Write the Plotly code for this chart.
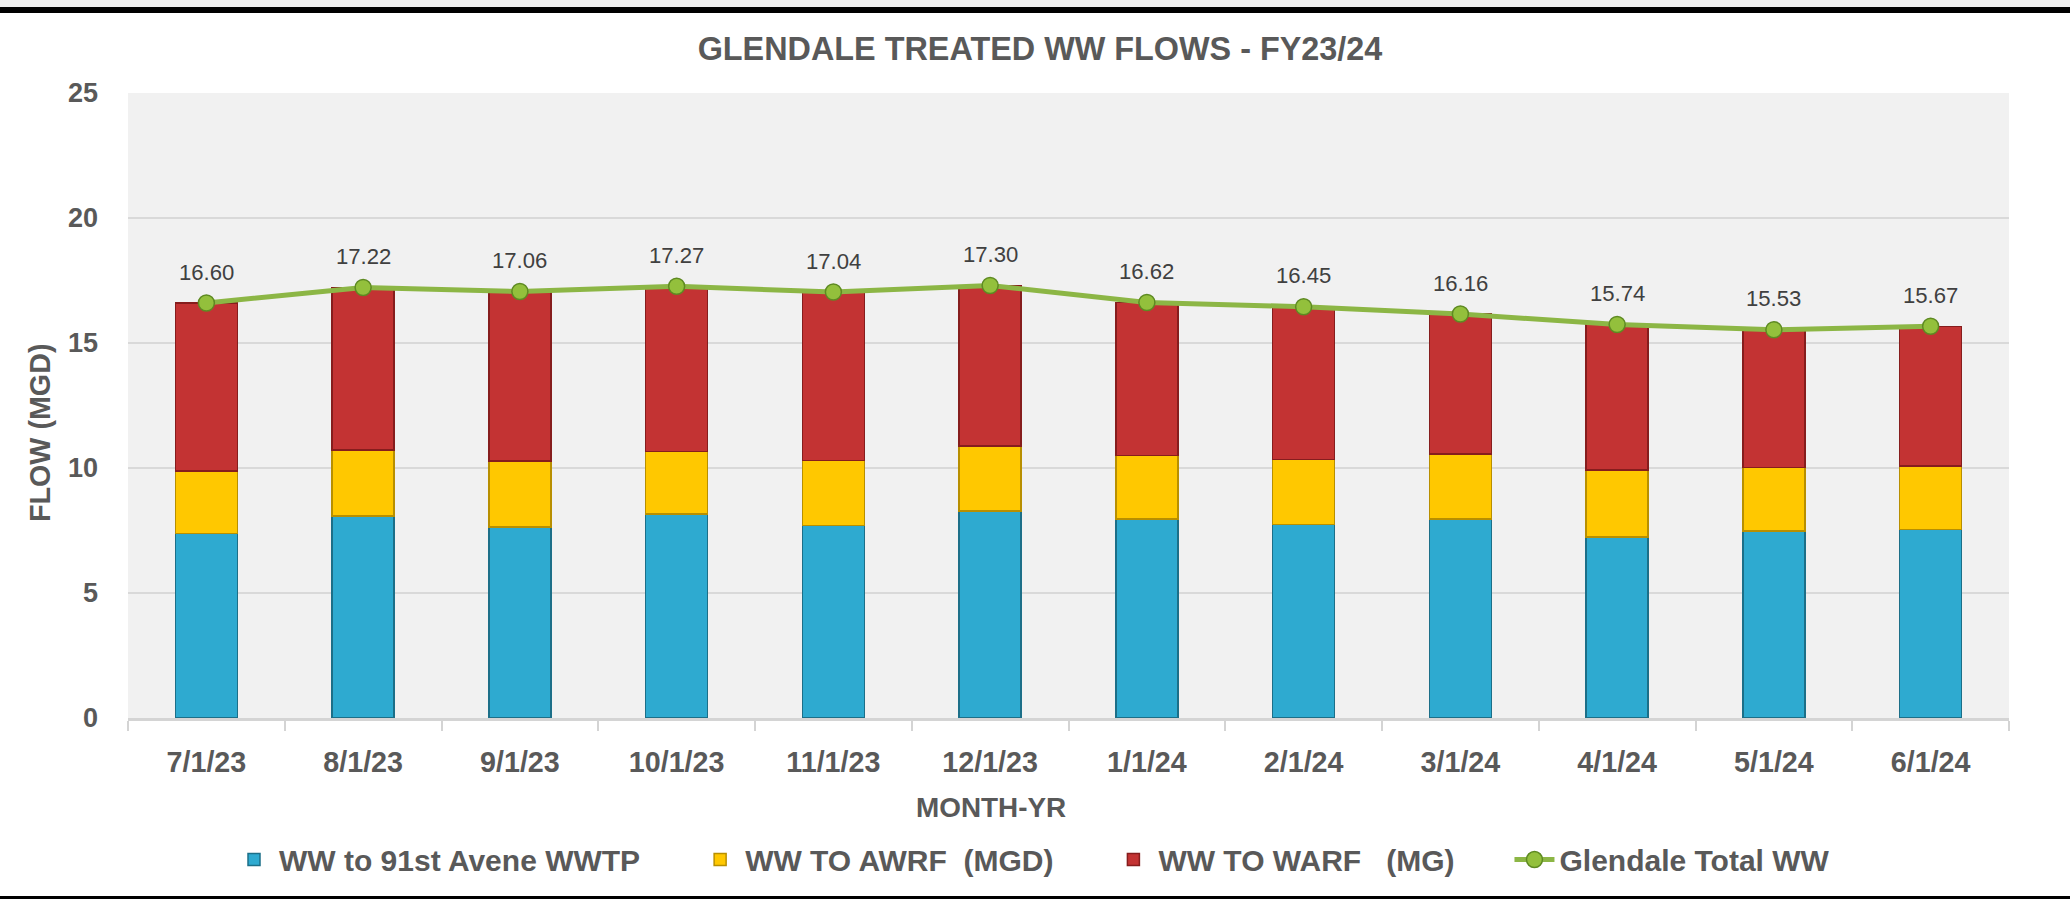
import subprocess
import plotly.graph_objects as go

# ---- data ----
months = ["7/1/23", "8/1/23", "9/1/23", "10/1/23", "11/1/23", "12/1/23",
          "1/1/24", "2/1/24", "3/1/24", "4/1/24", "5/1/24", "6/1/24"]
ww_91st = [7.39, 8.08, 7.65, 8.17, 7.70, 8.28, 7.96, 7.75, 7.96, 7.25, 7.48, 7.55]
ww_awrf = [2.50, 2.64, 2.64, 2.50, 2.60, 2.60, 2.55, 2.60, 2.60, 2.67, 2.55, 2.54]
ww_warf = [6.71, 6.50, 6.77, 6.60, 6.74, 6.42, 6.11, 6.10, 5.60, 5.82, 5.50, 5.58]
total_ww = [16.60, 17.22, 17.06, 17.27, 17.04, 17.30, 16.62, 16.45, 16.16, 15.74, 15.53, 15.67]
y_ticks = [0, 5, 10, 15, 20, 25]

# ---- fonts ----
narrow = False
try:
    out = subprocess.run(["fc-list", ":", "family"], capture_output=True, text=True).stdout
    narrow = "Liberation Sans Narrow" in out
except Exception:
    narrow = False
if narrow:
    FONT = "Liberation Sans Narrow, Arial Narrow, sans-serif"
    k = 1.0
else:
    FONT = "Liberation Sans, Arial, sans-serif"
    k = 0.82
GREY = "#595959"

W, H = 2070, 899
L, R, T, B = 128, 61, 93, 181
pw, ph = W - L - R, H - T - B


def px_x(px):
    return (px - L) / pw


def px_y(py):
    return (H - B - py) / ph


GAP = "\u00a0" * 6
fig = go.Figure()
fig.add_trace(go.Bar(x=months, y=ww_91st, name="WW to 91st Avene WWTP" + GAP,
                     marker=dict(color="#2eaad0", line=dict(color="#1c6f88", width=1.5))))
fig.add_trace(go.Bar(x=months, y=ww_awrf, name="WW TO AWRF\u00a0\u00a0(MGD)" + GAP,
                     marker=dict(color="#ffc800", line=dict(color="#b88f00", width=1.5))))
fig.add_trace(go.Bar(x=months, y=ww_warf, name="WW TO WARF\u00a0\u00a0\u00a0(MG)" + GAP,
                     marker=dict(color="#c33333", line=dict(color="#861d1d", width=1.5))))
fig.add_trace(go.Scatter(x=months, y=total_ww, name="Glendale Total WW", mode="lines+markers",
                         line=dict(color="#8cb645", width=5),
                         marker=dict(size=16, color="#93c03c", line=dict(color="#5e8a22", width=1.5))))

for m, v in zip(months, total_ww):
    fig.add_annotation(x=m, y=v, text=f"{v:.2f}", showarrow=False, yshift=31,
                       font=dict(family=FONT, size=27 * k, color="#404040"))

# axis titles as annotations (offset positions as in reference)
fig.add_annotation(xref="paper", yref="paper", x=px_x(991), y=px_y(808), text="<b>MONTH-YR</b>",
                   xanchor="center", yanchor="middle",
                   showarrow=False, font=dict(family=FONT, size=34 * k, color=GREY))
fig.add_annotation(xref="paper", yref="paper", x=px_x(40), y=px_y(433), text="<b>FLOW (MGD)</b>",
                   xanchor="center", yanchor="middle",
                   textangle=-90, showarrow=False, font=dict(family=FONT, size=35 * k, color=GREY))

# frame bands
fig.add_shape(type="rect", xref="paper", yref="paper", x0=px_x(0), x1=px_x(W), y0=px_y(0), y1=px_y(7),
              fillcolor="#eeeeee", line_width=0, layer="below")
fig.add_shape(type="rect", xref="paper", yref="paper", x0=px_x(0), x1=px_x(W), y0=px_y(7), y1=px_y(13),
              fillcolor="#000000", line_width=0)
fig.add_shape(type="rect", xref="paper", yref="paper", x0=px_x(0), x1=px_x(W), y0=px_y(896), y1=px_y(899),
              fillcolor="#000000", line_width=0)

fig.update_layout(
    width=W, height=H,
    margin=dict(l=L, r=R, t=T, b=B, autoexpand=False),
    barmode="stack", bargap=0.604,
    paper_bgcolor="white", plot_bgcolor="#f1f1f1",
    font=dict(family=FONT, color=GREY),
    title=dict(text="<b>GLENDALE TREATED WW FLOWS - FY23/24</b>", x=1040 / W, xref="container",
               y=1 - 49 / H, yref="container", xanchor="center", yanchor="middle",
               font=dict(family=FONT, size=39.5 * k, color=GREY)),
    legend=dict(orientation="h", x=px_x(1032), xanchor="center", y=px_y(860), yanchor="middle",
                font=dict(family=FONT, size=36.6 * k, color=GREY, weight="bold"),
                bgcolor="rgba(0,0,0,0)", traceorder="normal", itemwidth=40),
    showlegend=True,
)
fig.update_xaxes(type="category", range=[-0.5, len(months) - 0.5], showgrid=False, showline=True,
                 linecolor="#d4d4d4", linewidth=3,
                 ticks="outside", tickson="boundaries", ticklen=10, tickcolor="#d4d4d4", tickwidth=2,
                 tickfont=dict(family=FONT, size=35 * k, color=GREY, weight="bold"),
                 ticklabelstandoff=17)
fig.update_yaxes(range=[0, 25], tickvals=y_ticks, showgrid=True, gridcolor="#d9d9d9", gridwidth=2,
                 zeroline=False, showline=False, ticks="",
                 tickfont=dict(family=FONT, size=33 * k, color=GREY, weight="bold"),
                 ticklabelstandoff=29)

fig.write_html("out.html", config={"displayModeBar": False},
               post_script="document.body.style.margin='0';document.body.style.overflow='hidden';")
